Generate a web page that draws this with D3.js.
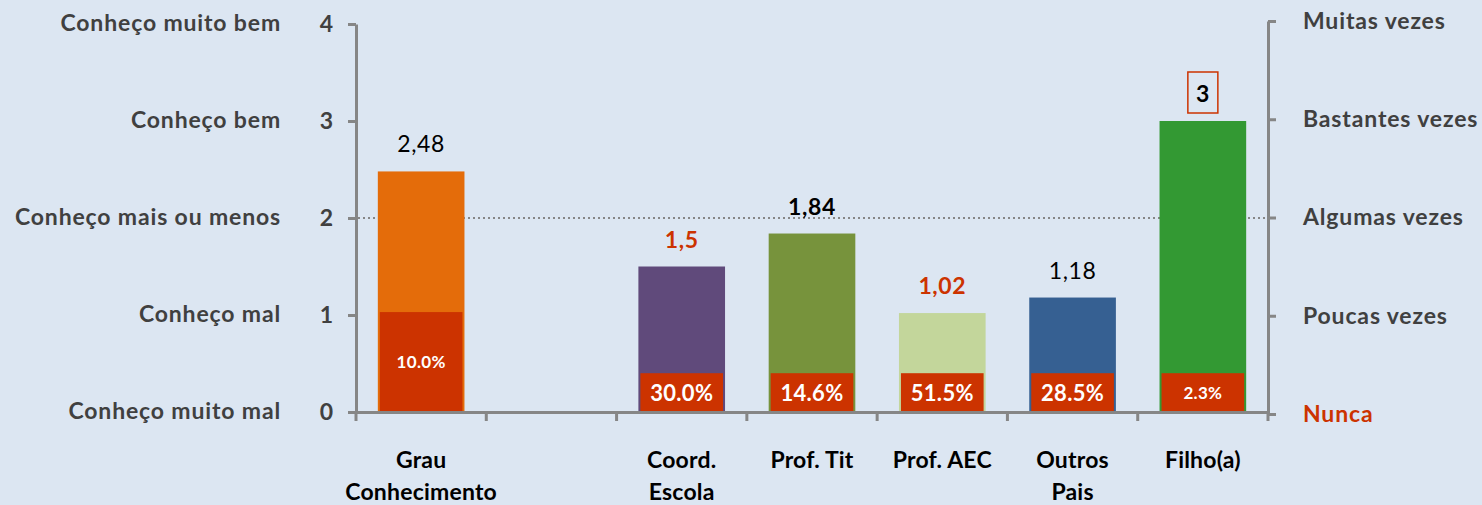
<!DOCTYPE html>
<html>
<head>
<meta charset="utf-8">
<script src="https://cdn.jsdelivr.net/npm/d3@7"></script>
<style>
	html, body { margin: 0; padding: 0; background: #dce6f2; }
	svg { display: block; font-family: Lato, 'Open Sans', sans-serif; }
</style>
</head>
<body>
<div id="chart"></div>
<script>
// chart data
let categories = ['Grau\nConhecimento', ' ', 'Coord.\nEscola', 'Prof. Tit', 'Prof. AEC', 'Outros\nPais', 'Filho(a)']
let values = [2.48, null, 1.5, 1.84, 1.02, 1.18, 3]
let valueLabels = ['2,48', null, '1,5', '1,84', '1,02', '1,18', '3']
let nuncaLabels = ['10.0%', null, '30.0%', '14.6%', '51.5%', '28.5%', '2.3%']
let leftTicks = [0, 1, 2, 3, 4]
let leftTickLabels = ['Conheço muito mal', 'Conheço mal', 'Conheço mais ou menos', 'Conheço bem', 'Conheço muito bem']
let rightTickLabels = ['Nunca', 'Poucas vezes', 'Algumas vezes', 'Bastantes vezes', 'Muitas vezes']

// styles
let barColors = ['#e46c0a', null, '#604a7b', '#77933c', '#c3d69b', '#366092', '#339933']
let valueColors = ['#000', null, '#cc3300', '#000', '#cc3300', '#000', '#000']
let valueWeights = ['normal', null, 'bold', 'bold', 'bold', 'normal', 'bold']
let nuncaTop = [1.03, null, 0.4, 0.4, 0.4, 0.4, 0.4]
let nuncaSize = [17, null, 22, 22, 22, 22, 17]
let red = '#cc3300'
let axisColor = '#868686'
let textColor = '#404040'

let width = 1482
let height = 505

let svg = d3
	.select('#chart')
	.append('svg')
	.attr('width', width)
	.attr('height', height)

let x = d3.scaleBand().domain(categories).range([356, 1268]).padding(0)
let y = d3.scaleLinear().domain([0, 4]).range([412, 24])
let yRight = d3.scaleLinear().domain([0, 4]).range([414, 21])

let barW = x.bandwidth() * 0.665

// dotted reference line at 2
svg.append('line')
	.attr('x1', 358)
	.attr('x2', 1266)
	.attr('y1', y(2))
	.attr('y2', y(2))
	.attr('stroke', axisColor)
	.attr('stroke-width', 2)
	.attr('stroke-dasharray', '2,3')

// bars
let idx = d3.range(categories.length).filter(i => values[i] != null)

svg.selectAll('rect.bar')
	.data(idx)
	.join('rect')
	.attr('class', 'bar')
	.attr('x', i => x(categories[i]) + (x.bandwidth() - barW) / 2)
	.attr('y', i => y(values[i]))
	.attr('width', barW)
	.attr('height', i => y(0) - y(values[i]))
	.attr('fill', i => barColors[i])

// red "nunca" boxes
svg.selectAll('rect.nunca')
	.data(idx)
	.join('rect')
	.attr('class', 'nunca')
	.attr('x', i => x(categories[i]) + (x.bandwidth() - barW) / 2 + 2)
	.attr('y', i => y(nuncaTop[i]))
	.attr('width', barW - 4)
	.attr('height', i => y(0) - y(nuncaTop[i]))
	.attr('fill', red)

svg.selectAll('text.nunca')
	.data(idx)
	.join('text')
	.attr('class', 'nunca')
	.attr('x', i => x(categories[i]) + x.bandwidth() / 2)
	.attr('y', i => (y(nuncaTop[i]) + y(0)) / 2)
	.attr('dy', '0.36em')
	.attr('text-anchor', 'middle')
	.attr('fill', '#fff')
	.attr('font-weight', 'bold')
	.attr('font-size', i => nuncaSize[i])
	.attr('letter-spacing', 0.3)
	.text(i => nuncaLabels[i])

// value labels
svg.selectAll('text.val')
	.data(idx)
	.join('text')
	.attr('class', 'val')
	.attr('x', i => x(categories[i]) + x.bandwidth() / 2)
	.attr('y', i => y(values[i]) - 19)
	.attr('text-anchor', 'middle')
	.attr('fill', i => valueColors[i])
	.attr('font-weight', i => valueWeights[i])
	.attr('font-size', 23)
	.attr('letter-spacing', 0.6)
	.text(i => valueLabels[i])

// box round the top label of the last bar
let last = categories.length - 1
svg.append('rect')
	.attr('x', x(categories[last]) + x.bandwidth() / 2 - 15)
	.attr('y', y(values[last]) - 49)
	.attr('width', 30)
	.attr('height', 41)
	.attr('fill', 'none')
	.attr('stroke', red)
	.attr('stroke-width', 1.5)

// left axis
let leftAxis = svg.append('g')
	.attr('transform', 'translate(356,0)')
	.call(d3.axisLeft(y).tickValues(leftTicks).tickSize(8).tickSizeOuter(0).tickFormat(d3.format('d')))
leftAxis.select('.domain').attr('stroke', axisColor).attr('stroke-width', 3)
leftAxis.selectAll('.tick line').attr('stroke', axisColor).attr('stroke-width', 3)
leftAxis.selectAll('.tick text')
	.attr('x', -23)
	.attr('fill', textColor)
	.attr('font-size', 23)
	.attr('font-weight', 'bold')
	.attr('font-family', 'Lato, sans-serif')

svg.selectAll('text.leftlab')
	.data(leftTicks)
	.join('text')
	.attr('class', 'leftlab')
	.attr('x', 281)
	.attr('y', d => y(d))
	.attr('dy', '0.3em')
	.attr('text-anchor', 'end')
	.attr('fill', textColor)
	.attr('font-size', 23)
	.attr('font-weight', 'bold')
	.attr('letter-spacing', 0.85)
	.text((d, i) => leftTickLabels[i])

// right axis
let rightAxis = svg.append('g')
	.attr('transform', 'translate(1268,0)')
	.call(d3.axisRight(yRight).tickValues(leftTicks).tickSize(8).tickSizeOuter(0).tickFormat((d, i) => rightTickLabels[i]))
rightAxis.select('.domain').attr('stroke', axisColor).attr('stroke-width', 3)
rightAxis.selectAll('.tick line').attr('stroke', axisColor).attr('stroke-width', 3)
rightAxis.selectAll('.tick text')
	.attr('x', 35)
	.attr('fill', (d, i) => i == 0 ? red : textColor)
	.attr('font-size', 23)
	.attr('font-weight', 'bold')
	.attr('font-family', 'Lato, sans-serif')
	.attr('letter-spacing', 0.85)

// bottom axis with ticks on the band edges
let bottomAxis = svg.append('g')
	.attr('transform', `translate(0,${y(0)})`)
	.call(d3.axisBottom(x).tickSize(0).tickFormat(''))
bottomAxis.select('.domain').attr('stroke', axisColor).attr('stroke-width', 3)

let edges = categories.map(c => x(c)).concat([x.range()[1]])
svg.selectAll('line.edge')
	.data(edges)
	.join('line')
	.attr('class', 'edge')
	.attr('x1', d => d)
	.attr('x2', d => d)
	.attr('y1', y(0))
	.attr('y2', y(0) + 9)
	.attr('stroke', axisColor)
	.attr('stroke-width', 3)

// category labels
let catLabels = svg.selectAll('text.cat')
	.data(categories)
	.join('text')
	.attr('class', 'cat')
	.attr('x', d => x(d) + x.bandwidth() / 2)
	.attr('y', 468)
	.attr('text-anchor', 'middle')
	.attr('fill', '#000')
	.attr('font-size', 23)
	.attr('font-weight', 'bold')
	.attr('letter-spacing', 0.2)

catLabels.selectAll('tspan')
	.data(d => d.split('\n'))
	.join('tspan')
	.attr('x', function () { return d3.select(this.parentNode).attr('x') })
	.attr('dy', (d, i) => i == 0 ? 0 : 32)
	.text(d => d)
</script>
</body>
</html>
